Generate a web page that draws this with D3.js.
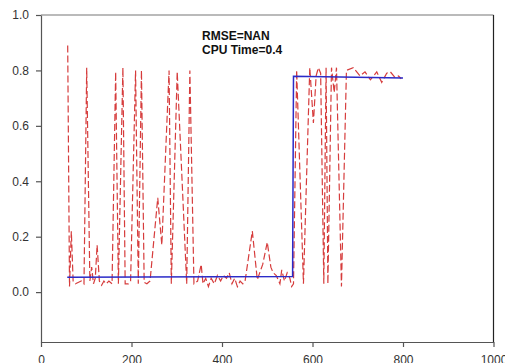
<!DOCTYPE html>
<html>
<head>
<meta charset="utf-8">
<script src="https://cdn.jsdelivr.net/npm/d3@7"></script>
<style>
  html, body { margin: 0; padding: 0; background: #fff; }
  svg { display: block; font-family: "Liberation Sans", Arial, sans-serif; }
</style>
</head>
<body>
<svg id="chart" width="505" height="363"></svg>
<script>
// ---- data ----
const xTicks = [0, 200, 400, 600, 800, 1000];
const yTicks = [0.0, 0.2, 0.4, 0.6, 0.8, 1.0];

const blueX = [58, 556, 558, 800];
const blueY = [0.054, 0.056, 0.779, 0.773];

const redX = [59, 63, 67, 71, 76, 82, 89, 95, 101, 108, 112, 116, 120, 124, 129, 134, 139, 144, 150, 157,
  165, 171, 181, 186, 193, 198, 209, 215, 222, 228, 234, 241, 258, 267, 283, 288, 301, 322, 329, 338,
  346, 354, 358, 364, 370, 376, 383, 390, 397, 403, 410, 416, 422, 428, 434, 440, 446, 451, 467, 478,
  490, 500, 508, 513, 520, 528, 532, 538, 544, 550, 554,
  558, 565, 580, 594, 602, 608, 613, 618, 625, 630, 634, 642, 648, 653, 664, 675, 690, 705, 716, 728,
  742, 753, 764, 772, 782, 790, 796];
const redY = [0.89, 0.02, 0.22, 0.04, 0.03, 0.035, 0.04, 0.03, 0.81, 0.04, 0.09, 0.03, 0.05, 0.17, 0.04, 0.025, 0.04, 0.03, 0.04, 0.03,
  0.795, 0.03, 0.81, 0.03, 0.03, 0.04, 0.80, 0.03, 0.80, 0.035, 0.03, 0.04, 0.34, 0.17, 0.80, 0.03, 0.795, 0.03, 0.80, 0.03,
  0.04, 0.10, 0.03, 0.05, 0.02, 0.05, 0.03, 0.06, 0.04, 0.06, 0.05, 0.07, 0.03, 0.05, 0.02, 0.04, 0.03, 0.04, 0.22, 0.045,
  0.10, 0.18, 0.09, 0.07, 0.06, 0.03, 0.08, 0.04, 0.07, 0.05, 0.02,
  0.03, 0.80, 0.03, 0.81, 0.61, 0.78, 0.81, 0.79, 0.03, 0.81, 0.03, 0.81, 0.72, 0.81, 0.02, 0.80, 0.81, 0.78, 0.795, 0.766,
  0.795, 0.757, 0.79, 0.795, 0.775, 0.78, 0.77];

const annotations = ["RMSE=NAN", "CPU Time=0.4"];

// ---- chart ----
const svg = d3.select("#chart");
const mLeft = 41, mRight = 493.5, mTop = 15, mBottom = 342;

const x = d3.scaleLinear().domain([0, 1000]).range([mLeft, mRight]);
const y = d3.scaleLinear().domain([-0.18, 1.0]).range([mBottom, mTop]);

// frame top & right
svg.append("line").attr("x1", mLeft).attr("x2", mRight).attr("y1", mTop).attr("y2", mTop)
  .attr("stroke", "#777").attr("stroke-width", 1.2);
svg.append("line").attr("x1", mRight).attr("x2", mRight).attr("y1", mTop).attr("y2", mBottom)
  .attr("stroke", "#222").attr("stroke-width", 1.2);

const xAxis = svg.append("g").attr("transform", `translate(0,${mBottom})`)
  .call(d3.axisBottom(x).tickValues(xTicks).tickSize(5).tickSizeOuter(0).tickPadding(8).tickFormat(d3.format("d")));
const yAxis = svg.append("g").attr("transform", `translate(${mLeft},0)`)
  .call(d3.axisLeft(y).tickValues(yTicks).tickSize(5).tickSizeOuter(0).tickPadding(7).tickFormat(d3.format(".1f")));

[xAxis, yAxis].forEach(g => {
  g.select(".domain").attr("stroke", "#555").attr("stroke-width", 1.2);
  g.selectAll(".tick line").attr("stroke", "#555").attr("stroke-width", 1.2);
  g.selectAll(".tick text").attr("fill", "#333").attr("font-size", 12)
    .attr("font-family", "Liberation Sans, Arial, sans-serif");
});

// red dashed series
const redData = redX.map((d, i) => [d, redY[i]]);
svg.append("path").datum(redData)
  .attr("fill", "none")
  .attr("stroke", "#d63c3c")
  .attr("stroke-width", 1.2)
  .attr("stroke-dasharray", "7,3")
  .attr("d", d3.line().x(d => x(d[0])).y(d => y(d[1])));

// blue step series
const blueData = blueX.map((d, i) => [d, blueY[i]]);
svg.append("path").datum(blueData)
  .attr("fill", "none")
  .attr("stroke", "#2b2bc8")
  .attr("stroke-width", 1.5)
  .attr("d", d3.line().x(d => x(d[0])).y(d => y(d[1])));

// annotations
svg.selectAll("text.ann").data(annotations).enter().append("text")
  .attr("class", "ann")
  .attr("x", 202)
  .attr("y", (d, i) => 40 + i * 13.5)
  .attr("font-size", 12)
  .attr("font-weight", "bold")
  .attr("fill", "#111")
  .text(d => d);
</script>
</body>
</html>
